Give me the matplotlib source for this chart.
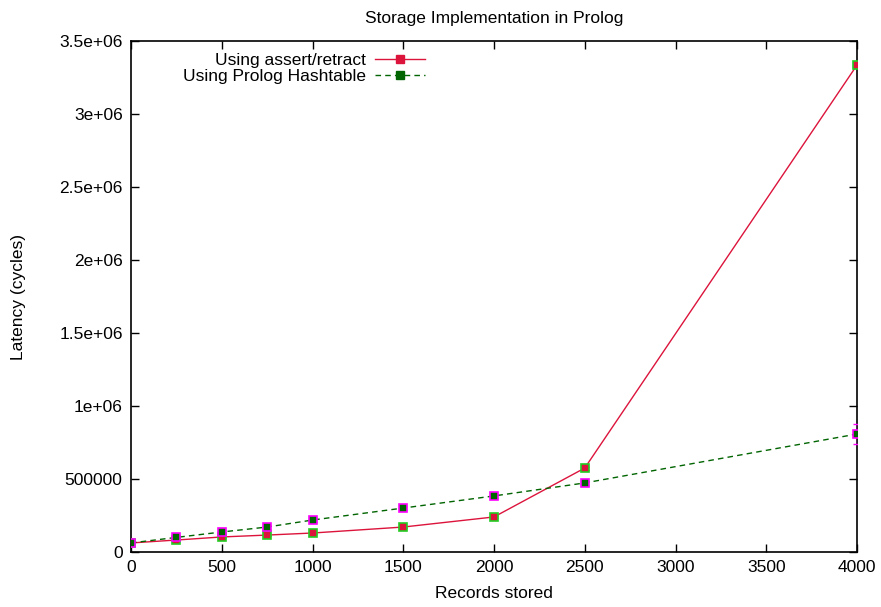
import matplotlib
matplotlib.use("Agg")
import matplotlib.pyplot as plt
from matplotlib.lines import Line2D

plt.rcParams['font.family'] = ['Liberation Sans', 'DejaVu Sans']

records = [0, 250, 500, 750, 1000, 1500, 2000, 2500, 4000]
assert_lat = [62000, 82000, 103000, 116000, 130000, 171000, 240000, 575000, 3335000]
assert_err = [8000, 8000, 8000, 8000, 8000, 8000, 8000, 10000, 20000]
hash_lat = [62000, 100000, 137000, 171000, 219000, 301000, 384000, 473000, 808000]
hash_err = [10000, 12000, 12000, 12000, 12000, 12000, 12000, 15000, 70000]

xticks = [0, 500, 1000, 1500, 2000, 2500, 3000, 3500, 4000]
yticks = [0, 500000, 1000000, 1500000, 2000000, 2500000, 3000000, 3500000]
ytick_labels = ['0', '500000', '1e+06', '1.5e+06', '2e+06', '2.5e+06', '3e+06', '3.5e+06']

fs = 12.5
fig = plt.figure(figsize=(8.81, 6.07), dpi=100)
ax = fig.add_axes([131/881, 1-552/607, (857-131)/881, (552-41)/607])

red = '#dc143c'
dgreen = '#006400'
dash = (0, (4, 3))

ax.errorbar(records, hash_lat, yerr=hash_err, fmt='none', ecolor='magenta', elinewidth=1, capsize=3, zorder=3)
ax.errorbar(records, assert_lat, yerr=assert_err, fmt='none', ecolor='#22cc22', elinewidth=1, capsize=3, zorder=3)

ax.plot(records, assert_lat, color=red, lw=1, marker='s', ms=6, mfc=red, mec='#22cc22', mew=1.2, zorder=4)
ax.plot(records, hash_lat, color=dgreen, lw=1, ls=dash, marker='s', ms=6, mfc=dgreen, mec='magenta', mew=1.2, zorder=4)

h1 = Line2D([], [], color=red, lw=1, marker='s', ms=6, mfc=red, mec=red)
h2 = Line2D([], [], color=dgreen, lw=1, ls=dash, marker='s', ms=6, mfc=dgreen, mec=dgreen)

ax.set_xlim(0, 4000)
ax.set_ylim(0, 3500000)
ax.set_xticks(xticks)
ax.set_xticklabels([str(v) for v in xticks])
ax.set_yticks(yticks)
ax.set_yticklabels(ytick_labels)
ax.tick_params(direction='in', top=True, right=True, length=6, width=1, labelsize=fs, pad=6)
for s in ax.spines.values():
    s.set_linewidth(1.2)

ax.set_title('Storage Implementation in Prolog', fontsize=fs, pad=13)
ax.set_xlabel('Records stored', fontsize=fs, labelpad=8)
ax.set_ylabel('Latency (cycles)', fontsize=fs, labelpad=24)

leg = ax.legend(handles=[h1, h2], labels=['Using assert/retract', 'Using Prolog Hashtable'],
                loc='upper left', bbox_to_anchor=(0.055, 1.0), frameon=False, markerfirst=False,
                fontsize=fs, handlelength=2.9, handletextpad=0.5, labelspacing=0.05, borderaxespad=0.3)
leg._legend_box.align = 'right'

fig.savefig('out.png', dpi=100)
